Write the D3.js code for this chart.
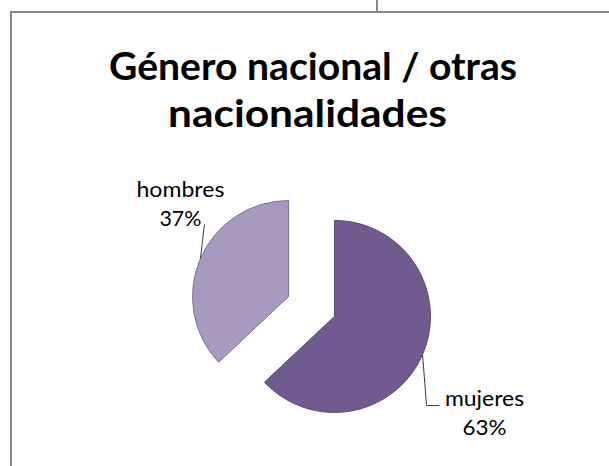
<!DOCTYPE html>
<html>
<head>
<meta charset="utf-8">
<script src="https://cdn.jsdelivr.net/npm/d3@7"></script>
<style>
  html, body { margin: 0; padding: 0; background: #ffffff; }
  svg { display: block; }
</style>
</head>
<body>
<svg id="chart" width="609" height="466"></svg>
<script>
// ---- data ----
const categories = ["mujeres", "hombres"];
const values = [63, 37];
const percentLabels = ["63%", "37%"];
const titleLines = ["Género nacional / otras", "nacionalidades"];

// ---- layout ----
const W = 609, H = 466;
const svg = d3.select("#chart");
const font = "Lato, 'Open Sans', sans-serif";

// frame lines
const frame = svg.append("g").attr("stroke", "#888888").attr("stroke-width", 2).attr("fill", "none");
frame.append("path").attr("d", `M11,${H} L11,12 L${W},12`);
frame.append("path").attr("d", "M377,0 L377,12");

// title
const titleSpec = [
  { x: 313, y: 80, len: 408 },
  { x: 307.5, y: 127, len: 279 }
];
svg.append("g").selectAll("text").data(titleLines).join("text")
  .attr("x", (d, i) => titleSpec[i].x)
  .attr("y", (d, i) => titleSpec[i].y)
  .attr("text-anchor", "middle")
  .attr("font-family", font)
  .attr("font-weight", "bold")
  .attr("font-size", 38)
  .attr("fill", "#000")
  .attr("textLength", (d, i) => titleSpec[i].len)
  .attr("lengthAdjust", "spacingAndGlyphs")
  .text(d => d);

// pie
const cx = 311.5, cy = 306.5, R = 96, explode = 25;
const colors = d3.scaleOrdinal().domain(categories).range(["#705A8F", "#A899BF"]);
const strokes = d3.scaleOrdinal().domain(categories).range(["#5C4878", "#7F6C9C"]);
const pie = d3.pie().sort(null).startAngle(0).endAngle(2 * Math.PI)
  .value((d, i) => values[i]);
const arcs = pie(categories);
const arc = d3.arc().innerRadius(0).outerRadius(R);

const mid = a => (a.startAngle + a.endAngle) / 2;
const offset = (a, r) => [Math.sin(mid(a)) * r, -Math.cos(mid(a)) * r];

const g = svg.append("g").attr("transform", `translate(${cx},${cy})`);
g.selectAll("path").data(arcs).join("path")
  .attr("transform", a => `translate(${offset(a, explode)})`)
  .attr("d", arc)
  .attr("fill", a => colors(a.data))
  .attr("stroke", a => strokes(a.data))
  .attr("stroke-width", 1);

// labels with leader lines
// leader geometry relative to the slice's edge point at its mid angle
const labelSpec = {
  mujeres: { leader: [[4, 51], [17, 51]], anchor: [62, 51], widths: [79, 44] },
  hombres: { leader: [[4, -34]], anchor: [-20, -61], widths: [88, 42] }
};
arcs.forEach((a, i) => {
  const name = a.data;
  const spec = labelSpec[name];
  const o = offset(a, explode);
  const e = offset(a, R);
  const ex = cx + o[0] + e[0], ey = cy + o[1] + e[1];
  const pts = [[ex, ey]].concat(spec.leader.map(p => [ex + p[0], ey + p[1]]));
  svg.append("path")
    .attr("d", d3.line()(pts))
    .attr("fill", "none")
    .attr("stroke", "#3a3a3a")
    .attr("stroke-width", 1);
  const lx = ex + spec.anchor[0], ly = ey + spec.anchor[1];
  [name, percentLabels[i]].forEach((t, k) => {
    svg.append("text")
      .attr("x", lx)
      .attr("y", ly + k * 29)
      .attr("text-anchor", "middle")
      .attr("font-family", font)
      .attr("font-size", 21)
      .attr("fill", "#000")
      .attr("textLength", spec.widths[k])
      .attr("lengthAdjust", "spacingAndGlyphs")
      .text(t);
  });
});
</script>
</body>
</html>
